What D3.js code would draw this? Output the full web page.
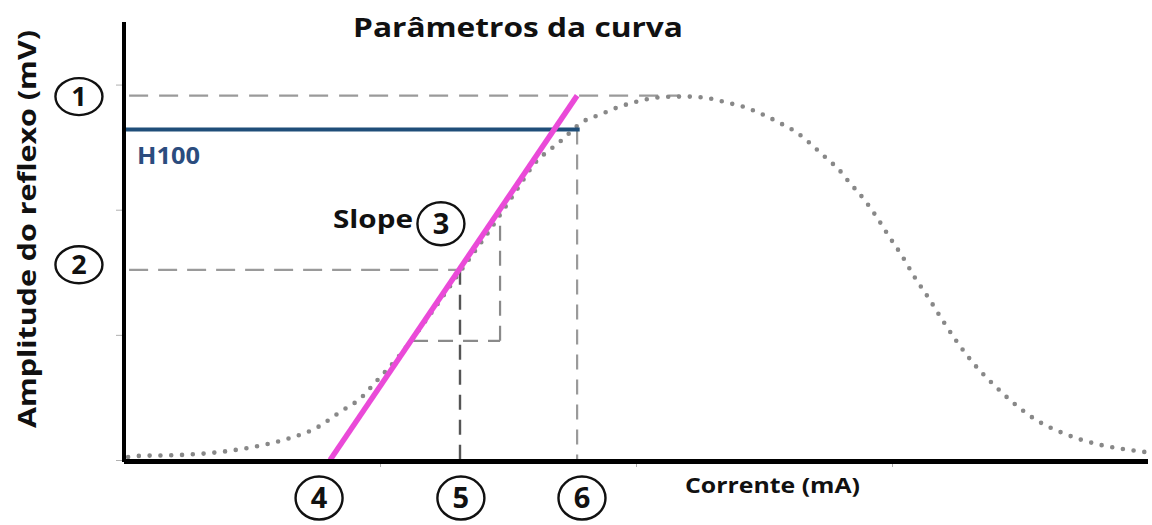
<!DOCTYPE html>
<html>
<head>
<meta charset="utf-8">
<script src="https://cdn.jsdelivr.net/npm/d3@7"></script>
<style>
  html, body { margin: 0; padding: 0; background: #fff; }
  svg { display: block; }
  text { font-family: "Open Sans", "Noto Sans", sans-serif; font-weight: 700; }
</style>
</head>
<body>
<svg id="chart" width="1152" height="525"></svg>
<script>
// ---------- data (x: corrente, y: amplitude) ----------
const curveX = [0.016,0.051,0.219,0.375,0.504,0.637,0.758,0.844,0.930,0.973,1.078,1.195,1.313,1.430,1.527,1.617,1.664,1.703,1.793,1.859,1.926,1.988,2.082,2.160,2.211,2.289,2.355,2.418,2.496,2.574,2.629,2.668,2.707,2.750,2.793,2.828,2.898,2.957,2.984,3.039,3.090,3.145,3.199,3.254,3.320,3.398,3.484,3.563,3.648,3.730,3.816,3.902,3.988];
const curveY = [0.024,0.032,0.040,0.064,0.104,0.168,0.264,0.384,0.504,0.600,0.840,1.160,1.504,1.840,2.136,2.400,2.480,2.544,2.704,2.760,2.816,2.856,2.896,2.904,2.904,2.888,2.856,2.824,2.760,2.680,2.616,2.552,2.480,2.400,2.320,2.232,2.064,1.888,1.800,1.632,1.456,1.288,1.112,0.944,0.768,0.600,0.440,0.320,0.232,0.168,0.120,0.088,0.064];

const slopeX = [0.805, 1.770];
const slopeY = [0.000, 2.912];

const h100Y = 2.64;
const h100XEnd = 1.78;
const maxAmpY = 2.912;
const maxAmpXEnd = 2.17;
const halfAmpY = 1.52;
const halfAmpX = 1.3125;
const maxCurrentX = 1.77;
const triX = [1.129, 1.469];
const triY = [0.952, 1.984];

const yTicks = [0, 1, 2, 3];
const xTicks = [1, 2, 3];

const markers = [
  { label: "1", x: -0.176, y: 2.904, axis: "y" },
  { label: "2", x: -0.176, y: 1.560, axis: "y" },
  { label: "3", x: 1.238, y: 1.888, axis: "in" },
  { label: "4", x: 0.762, y: -0.304, axis: "x" },
  { label: "5", x: 1.316, y: -0.304, axis: "x" },
  { label: "6", x: 1.789, y: -0.304, axis: "x" }
];

// ---------- scales ----------
const svg = d3.select("#chart");
const x = d3.scaleLinear().domain([0, 4]).range([124, 1148]);
const y = d3.scaleLinear().domain([0, 3.5]).range([460, 22]);

// ticks
const gy = svg.append("g").attr("transform", `translate(${x(0) - 2},0)`)
  .call(d3.axisLeft(y).tickValues(yTicks).tickSize(6).tickFormat(""));
gy.select(".domain").remove();
gy.selectAll(".tick line").attr("stroke", "#b0b0b0").attr("stroke-width", 1);

const gx = svg.append("g").attr("transform", `translate(0,${y(0) + 2})`)
  .call(d3.axisBottom(x).tickValues(xTicks).tickSize(5).tickFormat(""));
gx.select(".domain").remove();
gx.selectAll(".tick line").attr("stroke", "#b0b0b0").attr("stroke-width", 1);

// dashed guides
function seg(x1, y1, x2, y2, color, w, dash) {
  svg.append("line")
    .attr("x1", x(x1)).attr("y1", y(y1)).attr("x2", x(x2)).attr("y2", y(y2))
    .attr("stroke", color).attr("stroke-width", w).attr("stroke-dasharray", dash);
}
seg(0.02, maxAmpY, maxAmpXEnd, maxAmpY, "#9a9a9a", 2.2, "19,11");
seg(0.02, halfAmpY, halfAmpX, halfAmpY, "#9a9a9a", 2.2, "19,10");
seg(halfAmpX, halfAmpY, halfAmpX, 0, "#555555", 2.4, "15,10");
seg(maxCurrentX, h100Y, maxCurrentX, 0, "#9a9a9a", 2.2, "15,10");
seg(triX[0], triY[0], triX[1], triY[0], "#8a8a8a", 2.2, "15,10");
seg(triX[1], triY[0], triX[1], triY[1], "#8a8a8a", 2.2, "15,10");

// dotted curve
const pts = curveX.map((d, i) => [d, curveY[i]]);
svg.append("path")
  .datum(pts)
  .attr("d", d3.line().x(d => x(d[0])).y(d => y(d[1])).curve(d3.curveMonotoneX))
  .attr("fill", "none")
  .attr("stroke", "#888888")
  .attr("stroke-width", 4.6)
  .attr("stroke-linecap", "round")
  .attr("stroke-dasharray", "0,10.8");

// H100 line
svg.append("line")
  .attr("x1", x(0)).attr("x2", x(h100XEnd))
  .attr("y1", y(h100Y)).attr("y2", y(h100Y))
  .attr("stroke", "#1f4e79").attr("stroke-width", 4);

// slope line
svg.append("line")
  .attr("x1", x(slopeX[0])).attr("y1", y(slopeY[0]))
  .attr("x2", x(slopeX[1])).attr("y2", y(slopeY[1]))
  .attr("stroke", "#ea4ad8").attr("stroke-width", 5.5);

// axes lines
svg.append("line").attr("x1", x(0)).attr("x2", x(0)).attr("y1", 22).attr("y2", y(0) + 2)
  .attr("stroke", "#000").attr("stroke-width", 4);
svg.append("line").attr("x1", x(0)).attr("x2", x(4)).attr("y1", y(0) + 1.5).attr("y2", y(0) + 1.5)
  .attr("stroke", "#000").attr("stroke-width", 5);

// circled numbers
markers.forEach(m => {
  const cx = x(m.x), cy = y(m.y);
  const ry = m.axis === "y" ? 18.5 : 21.5;
  svg.append("ellipse").attr("cx", cx).attr("cy", cy).attr("rx", 23.5).attr("ry", ry)
    .attr("fill", "#fff").attr("stroke", "#111").attr("stroke-width", 2.4);
  svg.append("text").attr("x", cx).attr("y", cy).attr("dy", "0.36em")
    .attr("text-anchor", "middle").attr("font-size", m.axis === "y" ? 27 : 29).attr("fill", "#111")
    .text(m.label);
});

// texts
svg.append("text").attr("x", 353).attr("y", 37).attr("font-size", 27)
  .attr("textLength", 330).attr("lengthAdjust", "spacingAndGlyphs")
  .attr("fill", "#111").text("Parâmetros da curva");

svg.append("text").attr("x", 137).attr("y", 164).attr("font-size", 23)
  .attr("textLength", 63).attr("lengthAdjust", "spacingAndGlyphs")
  .attr("fill", "#2b4c7e").text("H100");

svg.append("text").attr("x", 333).attr("y", 228).attr("font-size", 25)
  .attr("textLength", 80).attr("lengthAdjust", "spacingAndGlyphs")
  .attr("fill", "#111").text("Slope");

svg.append("text").attr("x", 685).attr("y", 493).attr("font-size", 21)
  .attr("textLength", 175).attr("lengthAdjust", "spacingAndGlyphs")
  .attr("fill", "#111").text("Corrente (mA)");

svg.append("text").attr("transform", "translate(36,229) rotate(-90)")
  .attr("text-anchor", "middle").attr("font-size", 25)
  .attr("textLength", 398).attr("lengthAdjust", "spacingAndGlyphs")
  .attr("fill", "#111").text("Amplitude do reflexo (mV)");
</script>
</body>
</html>
